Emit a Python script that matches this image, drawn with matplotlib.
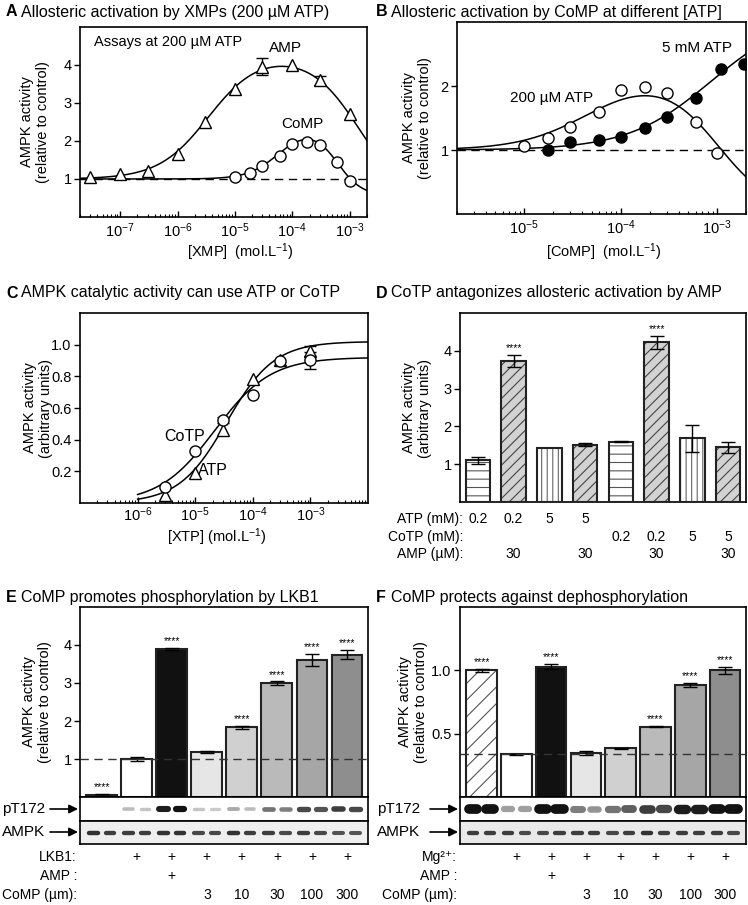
import numpy as np
import matplotlib
matplotlib.use('Agg')
import matplotlib.pyplot as plt
from matplotlib.patches import FancyArrowPatch
from matplotlib.ticker import LogLocator, NullFormatter, FixedLocator
from matplotlib.transforms import blended_transform_factory

plt.rcParams['font.family'] = ['Liberation Sans', 'DejaVu Sans']
plt.rcParams['mathtext.default'] = 'regular'
plt.rcParams['axes.linewidth'] = 1.2
plt.rcParams['hatch.linewidth'] = 0.8

W, H = 748, 905
FS = 10.5  # general text size
TS = 10    # table text size

# ---- A: allosteric activation by XMPs ----
a_amp_x = [3e-8, 1e-7, 3e-7, 1e-6, 3e-6, 1e-5, 3e-5, 1e-4, 3e-4, 1e-3]
a_amp_y = [1.04, 1.12, 1.21, 1.65, 2.5, 3.37, 3.96, 4.0, 3.6, 2.7]
a_amp_err = [0, 0, 0, 0, 0, 0, 0.23, 0, 0.12, 0]
a_comp_x = [1e-5, 1.8e-5, 3e-5, 6e-5, 1e-4, 1.8e-4, 3e-4, 6e-4, 1e-3]
a_comp_y = [1.04, 1.17, 1.35, 1.61, 1.91, 1.97, 1.9, 1.44, 0.96]
# fitted curve parameters: amp, Ka, h, inh, Ki, m
a_amp_fit = (3.3, 3.5e-6, 1.0, 4.0, 1.5e-3, 1.0)
a_comp_fit = (1.4, 6e-5, 1.6, 1.85, 6e-4, 2.0)

# ---- B: CoMP at different [ATP] ----
b_x = [1e-5, 1.75e-5, 3e-5, 6e-5, 1e-4, 1.8e-4, 3e-4, 6e-4, 1e-3]
b_200_y = [1.06, 1.18, 1.36, 1.6, 1.93, 1.98, 1.89, 1.44, 0.95]
b_5mm_x = [1.75e-5, 3e-5, 6e-5, 1e-4, 1.8e-4, 3e-4, 6e-4, 1.1e-3, 1.9e-3]
b_5mm_y = [1.0, 1.12, 1.16, 1.2, 1.34, 1.51, 1.82, 2.26, 2.35]
b_200_fit = (1.22, 5e-5, 1.2, 2.2, 1e-3, 1.5)
b_5mm_fit = (2.156, 8.75e-4, 1.0, 0.0, 1.0, 1.0)

# ---- C: catalytic activity with ATP or CoTP ----
c_x = [3e-6, 1e-5, 3e-5, 1e-4, 3e-4, 1e-3]
c_atp_y = [0.05, 0.19, 0.46, 0.78, 0.905, 0.96]
c_atp_err = [0, 0, 0, 0, 0, 0.03]
c_cotp_y = [0.10, 0.33, 0.525, 0.685, 0.895, 0.90]
c_cotp_err = [0, 0, 0.02, 0, 0, 0.055]
# top, EC50, Hill
c_atp_fit = (1.02, 3.5e-5, 1.05)
c_cotp_fit = (0.92, 2.2e-5, 0.9)

# ---- D: CoTP vs AMP ----
d_vals = [1.1, 3.73, 1.43, 1.52, 1.6, 4.23, 1.68, 1.45]
d_err = [0.1, 0.16, 0.0, 0.04, 0.02, 0.17, 0.35, 0.15]
d_stars = [0, 1, 0, 0, 0, 1, 0, 0]
d_atp = ['0.2', '0.2', '5', '5', '', '', '', '']
d_cotp = ['', '', '', '', '0.2', '0.2', '5', '5']
d_amp = ['', '30', '', '30', '', '30', '', '30']

# ---- E: phosphorylation by LKB1 ----
e_vals = [0.05, 1.0, 3.9, 1.18, 1.83, 3.0, 3.6, 3.75]
e_err = [0.02, 0.05, 0.03, 0.03, 0.04, 0.04, 0.16, 0.13]
e_stars = [1, 0, 1, 0, 1, 1, 1, 1]
e_lkb1 = ['', '+', '+', '+', '+', '+', '+', '+']
e_amp = ['', '', '+', '', '', '', '', '']
comp_conc = ['', '', '', '3', '10', '30', '100', '300']
e_pt172 = [0, 0, 0.22, 0.18, 0.95, 1.0, 0.18, 0.15, 0.3, 0.22, 0.55, 0.5, 0.75, 0.7, 0.8, 0.75]
e_ampk = [0.85, 0.8, 0.8, 0.8, 0.85, 0.85, 0.75, 0.75, 0.85, 0.8, 0.8, 0.75, 0.8, 0.75, 0.7, 0.7]

# ---- F: protection against dephosphorylation ----
f_vals = [1.0, 0.338, 1.03, 0.35, 0.383, 0.555, 0.883, 1.0]
f_err = [0.01, 0.005, 0.02, 0.015, 0.006, 0.006, 0.015, 0.03]
f_stars = [1, 0, 1, 0, 0, 1, 1, 1]
f_mg = ['', '+', '+', '+', '+', '+', '+', '+']
f_amp = ['', '', '+', '', '', '', '', '']
f_pt172 = [1.0, 1.0, 0.35, 0.35, 1.0, 1.0, 0.5, 0.4, 0.55, 0.65, 0.8, 0.75, 0.95, 0.95, 1.0, 1.0]
f_ampk = [0.8, 0.8, 0.8, 0.75, 0.75, 0.8, 0.8, 0.8, 0.75, 0.8, 0.85, 0.8, 0.8, 0.8, 0.8, 0.75]

bar_grays = ['#111111', 'white', '#111111', '#e6e6e6', '#d0d0d0', '#bababa', '#a6a6a6', '#8e8e8e']


def hill(x, k, n):
    return x ** n / (k ** n + x ** n)


def bell(x, p):
    amp, ka, h, inh, ki, m = p
    return 1 + amp * hill(x, ka, h) - inh * hill(x, ki, m)


fig = plt.figure(figsize=(W / 100, H / 100), dpi=100)


def px_axes(l, t, r, b):
    return fig.add_axes([l / W, 1 - b / H, (r - l) / W, (b - t) / H])


def ftext(x, y, s, **kw):
    kw.setdefault('fontsize', FS)
    return fig.text(x / W, 1 - y / H, s, **kw)


def title(x, y, letter, s):
    ftext(x, y, letter, fontsize=11.5, fontweight='bold', va='center')
    ftext(x + 15, y, s, fontsize=11.5, va='center')


def ylabel(x, y, s):
    ftext(x, y, s, rotation=90, ha='center', va='center', multialignment='center')


def style_axes(ax):
    ax.tick_params(axis='y', direction='out', length=4, width=1, labelsize=FS, pad=2)
    ax.tick_params(axis='x', which='major', direction='in', length=4, width=1,
                   labelsize=FS, pad=3)
    ax.tick_params(axis='x', which='minor', direction='in', length=2.5, width=0.8)


def log_axes(ax, lo, hi):
    ax.set_xscale('log')
    ax.set_xlim(lo, hi)
    ax.xaxis.set_minor_locator(LogLocator(base=10, subs=np.arange(2, 10)))
    ax.xaxis.set_minor_formatter(NullFormatter())
    style_axes(ax)


def errs(ax, x, y, e):
    idx = [i for i in range(len(e)) if e[i] > 0]
    ax.errorbar([x[i] for i in idx], [y[i] for i in idx], [e[i] for i in idx],
                fmt='none', ecolor='black', elinewidth=1, capsize=4, capthick=1, zorder=4)


tri = dict(marker='^', ms=8.5, mfc='white', mec='black', mew=1, ls='none', zorder=5)
circ = dict(marker='o', ms=8, mfc='white', mec='black', mew=1, ls='none', zorder=5)
dot = dict(marker='o', ms=8, mfc='black', mec='black', mew=1, ls='none', zorder=5)

# ================= A =================
ax = px_axes(80, 27, 367, 217)
log_axes(ax, 2e-8, 2e-3)
ax.set_ylim(0, 5)
ax.set_yticks([1, 2, 3, 4])
xs = np.logspace(np.log10(2e-8), np.log10(2e-3), 300)
ax.axhline(1, color='black', lw=1, dashes=(6, 4), zorder=1)
ax.plot(xs, bell(xs, a_amp_fit), color='black', lw=1.1, zorder=3)
ax.plot(xs, bell(xs, a_comp_fit), color='black', lw=1.1, zorder=3)
errs(ax, a_amp_x, a_amp_y, a_amp_err)
ax.plot(a_amp_x, a_amp_y, **tri)
ax.plot(a_comp_x, a_comp_y, **circ)
ax.text(3.5e-8, 4.6, 'Assays at 200 µM ATP', fontsize=10.5, va='center')
ax.text(7.5e-5, 4.45, 'AMP', fontsize=11, ha='center', va='center')
ax.text(1.5e-4, 2.44, 'CoMP', fontsize=11, ha='center', va='center')
title(6, 12, 'A', 'Allosteric activation by XMPs (200 µM ATP)')
ylabel(35, 122, 'AMPK activity\n(relative to control)')
ftext(240, 252, '[XMP]  (mol.L$^{-1}$)', ha='center', va='center')

# ================= B =================
ax = px_axes(457, 22, 746, 214)
log_axes(ax, 2e-6, 2e-3)
ax.set_ylim(0, 3)
ax.set_yticks([1, 2])
xs = np.logspace(np.log10(2e-6), np.log10(2e-3), 300)
ax.axhline(1, color='black', lw=1, dashes=(6, 4), zorder=1)
ax.plot(xs, bell(xs, b_200_fit), color='black', lw=1.1, zorder=3)
ax.plot(xs, bell(xs, b_5mm_fit), color='black', lw=1.1, zorder=3)
ax.plot(b_x, b_200_y, **circ)
ax.plot(b_5mm_x, b_5mm_y, **dot)
ax.text(6.2e-4, 2.6, '5 mM ATP', fontsize=11, ha='center', va='center')
ax.text(1.9e-5, 1.81, '200 µM ATP', fontsize=11, ha='center', va='center')
title(376, 12, 'B', 'Allosteric activation by CoMP at different [ATP]')
ylabel(417, 118, 'AMPK activity\n(relative to control)')
ftext(604, 252, '[CoMP]  (mol.L$^{-1}$)', ha='center', va='center')

# ================= C =================
ax = px_axes(80, 313, 368, 503)
log_axes(ax, 1e-7, 1e-2)
ax.xaxis.set_major_locator(FixedLocator([1e-6, 1e-5, 1e-4, 1e-3]))
ax.tick_params(axis='x', which='major', pad=1.5)
ax.set_ylim(0, 1.2)
ax.set_yticks([0.2, 0.4, 0.6, 0.8, 1.0])
ax.set_yticklabels(['0.2', '0.4', '0.6', '0.8', '1.0'])
xs = np.logspace(-6, -2, 300)
ax.plot(xs, c_atp_fit[0] * hill(xs, c_atp_fit[1], c_atp_fit[2]), color='black', lw=1.1, zorder=3)
ax.plot(xs, c_cotp_fit[0] * hill(xs, c_cotp_fit[1], c_cotp_fit[2]), color='black', lw=1.1, zorder=3)
errs(ax, c_x, c_atp_y, c_atp_err)
errs(ax, c_x, c_cotp_y, c_cotp_err)
ax.plot(c_x, c_atp_y, **tri)
ax.plot(c_x, c_cotp_y, **circ)
ax.text(6.5e-6, 0.42, 'CoTP', fontsize=11.5, ha='center', va='center')
ax.text(1.1e-5, 0.205, 'ATP', fontsize=11.5, ha='left', va='center')
title(6, 293, 'C', 'AMPK catalytic activity can use ATP or CoTP')
ylabel(38, 408, 'AMPK activity\n(arbitrary units)')
ftext(217, 537, '[XTP] (mol.L$^{-1}$)', ha='center', va='center')


# ================= bar helpers =================
def bar_axes(ax, ymax, ticks, labels):
    ax.set_ylim(0, ymax)
    ax.set_yticks(ticks)
    ax.set_yticklabels(labels)
    ax.set_xticks([])
    style_axes(ax)


def stars(ax, xs, tops, flags, off):
    for x, t, f in zip(xs, tops, flags):
        if f:
            ax.text(x, t + off, '****', fontsize=7.5, ha='center', va='bottom')


def row(ax, y, labels):
    tr = blended_transform_factory(ax.transData, fig.transFigure)
    for i, s in enumerate(labels):
        if s:
            ax.text(i, 1 - y / H, s, transform=tr, ha='center', va='center', fontsize=TS)


# ================= D =================
ax = px_axes(460, 313, 746, 502)
pos = np.arange(len(d_vals))
ax.set_xlim(-0.5, 7.5)
bar_axes(ax, 5, [1, 2, 3, 4], ['1', '2', '3', '4'])
d_hatch = ['--', '///', '|||', '///', '--', '///', '|||', '///']
d_fill = ['white', '#d2d2d2', 'white', '#d2d2d2', 'white', '#d2d2d2', 'white', '#d2d2d2']
d_hcol = ['#555555', '#444444', '#666666', '#444444', '#555555', '#444444', '#666666', '#444444']
for i in range(len(d_vals)):
    ax.bar(pos[i], d_vals[i], width=0.68, color=d_fill[i], hatch=d_hatch[i],
           edgecolor=d_hcol[i], linewidth=0, zorder=2)
ax.bar(pos, d_vals, width=0.68, fill=False, edgecolor='#222222', linewidth=1.5, zorder=3)
idx = [i for i in range(8) if d_err[i] > 0]
ax.errorbar(pos[idx], [d_vals[i] for i in idx], [d_err[i] for i in idx], fmt='none',
            ecolor='black', elinewidth=1, capsize=5, capthick=1, zorder=4)
stars(ax, pos, np.array(d_vals) + np.array(d_err), d_stars, 0.04)
title(376, 293, 'D', 'CoTP antagonizes allosteric activation by AMP')
ylabel(417, 408, 'AMPK activity\n(arbitrary units)')
ftext(463, 519, 'ATP (mM):', ha='right', va='center', fontsize=TS)
ftext(463, 537, 'CoTP (mM):', ha='right', va='center', fontsize=TS)
ftext(463, 554, 'AMP (µM):', ha='right', va='center', fontsize=TS)
row(ax, 519, d_atp)
row(ax, 537, d_cotp)
row(ax, 554, d_amp)


# ================= E & F =================
def blot(l, r, t, b, xlim, bands, thick, bg):
    bx = px_axes(l, t, r, b)
    bx.set_xlim(*xlim)
    bx.set_ylim(0, 1)
    bx.set_xticks([])
    bx.set_yticks([])
    bx.set_facecolor(bg)
    for sp in bx.spines.values():
        sp.set_linewidth(1.2)
    for j, v in enumerate(bands):
        c = j // 2 + (-0.24 if j % 2 == 0 else 0.24)
        if v <= 0:
            continue
        g = 0.92 - 0.85 * v
        bx.plot([c - 0.12, c + 0.12], [0.5, 0.5], color=(g, g, g),
                lw=thick * (0.45 + 0.55 * v), solid_capstyle='round')
    return bx


def arrow_label(x_text, x_head, y, s):
    ftext(x_text, y, s, ha='left', va='center', fontsize=11)
    yf = 1 - y / H
    fig.add_artist(FancyArrowPatch(((x_head - 28) / W, yf), (x_head / W, yf),
                                   transform=fig.transFigure, arrowstyle='-|>',
                                   mutation_scale=13, color='black', lw=1.2,
                                   shrinkA=0, shrinkB=0))


def lkb_panel(l, r, vals, err, flags, ymax, ticks, labels, hatch_first, starsoff, dash_y,
              pt, ampk, pt_thick, ampk_bg):
    ax = px_axes(l, 607, r, 797)
    xlim = (-0.62, 7.6)
    ax.set_xlim(*xlim)
    bar_axes(ax, ymax, ticks, labels)
    pos = np.arange(len(vals))
    cols = list(bar_grays)
    if hatch_first:
        ax.bar(pos[0], vals[0], width=0.88, color='white', hatch='//', edgecolor='#555555',
               linewidth=0, zorder=2)
        cols[0] = 'none'
    ax.bar(pos, vals, width=0.88, color=cols, edgecolor='#222222', linewidth=1.5, zorder=2)
    ax.errorbar(pos, vals, err, fmt='none', ecolor='black', elinewidth=1, capsize=5,
                capthick=1, zorder=4)
    ax.axhline(dash_y, color='#333333', lw=1, dashes=(6, 4), zorder=5)
    stars(ax, pos, np.array(vals) + np.array(err), flags, starsoff)
    blot(l, r, 797, 821, xlim, pt, pt_thick, 'white')
    blot(l, r, 821, 844, xlim, ampk, 3.5, ampk_bg)
    return ax


ax = lkb_panel(80, 368, e_vals, e_err, e_stars, 5, [1, 2, 3, 4], ['1', '2', '3', '4'],
               False, 0.05, 1.0, e_pt172, e_ampk, 4.5, '#efefef')
title(6, 597, 'E', 'CoMP promotes phosphorylation by LKB1')
ylabel(37, 702, 'AMPK activity\n(relative to control)')
arrow_label(2, 78, 809, 'pT172')
arrow_label(2, 78, 832, 'AMPK')
ftext(77, 857, 'LKB1:', ha='right', va='center', fontsize=TS)
ftext(77, 876, 'AMP :', ha='right', va='center', fontsize=TS)
ftext(77, 895, 'CoMP (µm):', ha='right', va='center', fontsize=TS)
row(ax, 857, e_lkb1)
row(ax, 876, e_amp)
row(ax, 895, comp_conc)

ax = lkb_panel(460, 746, f_vals, f_err, f_stars, 1.5, [0.5, 1.0], ['0.5', '1.0'],
               True, 0.015, 0.338, f_pt172, f_ampk, 7, '#e9e9e9')
title(376, 597, 'F', 'CoMP protects against dephosphorylation')
ylabel(413, 702, 'AMPK activity\n(relative to control)')
arrow_label(377, 458, 809, 'pT172')
arrow_label(377, 458, 832, 'AMPK')
ftext(457, 857, 'Mg²⁺:', ha='right', va='center', fontsize=TS)
ftext(457, 876, 'AMP :', ha='right', va='center', fontsize=TS)
ftext(457, 895, 'CoMP (µm):', ha='right', va='center', fontsize=TS)
row(ax, 857, f_mg)
row(ax, 876, f_amp)
row(ax, 895, comp_conc)

fig.savefig('out.png', dpi=100)
